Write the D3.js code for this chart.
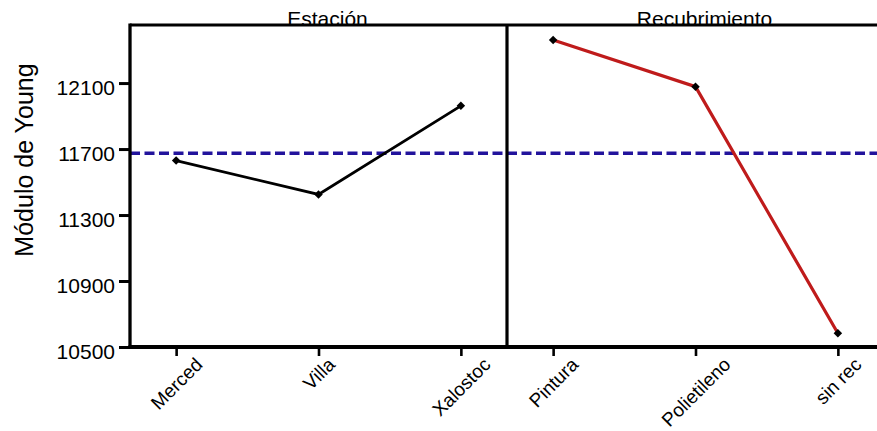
<!DOCTYPE html>
<html>
<head>
<meta charset="utf-8">
<script src="https://cdn.jsdelivr.net/npm/d3@7"></script>
<style>
  html, body { margin: 0; padding: 0; background: #fff; }
  svg { display: block; }
  text { font-family: "Liberation Sans", Arial, sans-serif; fill: #000; }
</style>
</head>
<body>
<svg id="chart" width="877" height="431"></svg>
<script>
// ---- data ----
const stations = ["Merced", "Villa", "Xalostoc"];
const stationValues = [11630, 11425, 11962];
const coatings = ["Pintura", "Polietileno", "sin rec"];
const coatingValues = [12361, 12078, 10583];
const grandMean = 11675;
const yTicks = [10500, 10900, 11300, 11700, 12100];
const panelTitles = ["Estación", "Recubrimiento"];
const yTitle = "Módulo de Young";

(function () {
// ---- layout ----
const W = 877, H = 431;
const mLeft = 130, mTop = 25, mBottom = 347;
const panelW = 377;
const svg = d3.select("#chart");

const y = d3.scaleLinear().domain([10500, 12452]).range([mBottom, mTop]);

const panels = [
  { cats: stations, vals: stationValues, x0: mLeft, color: "#000000", width: 2.8, title: panelTitles[0] },
  { cats: coatings, vals: coatingValues, x0: mLeft + panelW, color: "#bf1b1b", width: 3.2, title: panelTitles[1] }
];
panels.forEach(p => {
  p.x = d3.scalePoint().domain(p.cats).range([p.x0, p.x0 + panelW]).padding(0.324);
});

// panel titles (drawn under frame line)
panels.forEach(p => {
  svg.append("text")
    .attr("x", p.x0 + panelW / 2 + 9)
    .attr("y", 26)
    .attr("text-anchor", "middle")
    .style("font-size", "21px")
    .text(p.title);
});

// grand mean dashed line
svg.append("line")
  .attr("x1", mLeft).attr("x2", W + 10)
  .attr("y1", y(grandMean)).attr("y2", y(grandMean))
  .attr("stroke", "#22139c").attr("stroke-width", 3.5)
  .attr("stroke-dasharray", "10,4.5");

// series lines + markers
panels.forEach(p => {
  const pts = p.cats.map((c, i) => [p.x(c), y(p.vals[i])]);
  svg.append("path")
    .attr("d", d3.line()(pts))
    .attr("fill", "none")
    .attr("stroke", p.color)
    .attr("stroke-width", p.width);
  svg.selectAll(null).data(pts).enter().append("path")
    .attr("d", d3.symbol().type(d3.symbolSquare).size(36)())
    .attr("transform", d => `translate(${d[0]},${d[1]}) rotate(45)`)
    .attr("fill", "#000");
});

// frame: top border, divider
svg.append("line").attr("x1", mLeft).attr("x2", W + 10).attr("y1", mTop).attr("y2", mTop)
  .attr("stroke", "#000").attr("stroke-width", 3);
svg.append("line").attr("x1", mLeft + panelW).attr("x2", mLeft + panelW).attr("y1", mTop).attr("y2", mBottom)
  .attr("stroke", "#000").attr("stroke-width", 3.2);

// y axis
const yAxis = svg.append("g").attr("transform", `translate(${mLeft},0)`)
  .call(d3.axisLeft(y).tickValues(yTicks).tickSize(11).tickFormat(d3.format("d")));
yAxis.select(".domain").remove();
yAxis.selectAll(".tick line").attr("stroke", "#000").attr("stroke-width", 3);
yAxis.selectAll(".tick text")
  .attr("x", -15).attr("dy", "0.55em")
  .style("font-size", "21px").style("font-family", "'Liberation Sans', Arial, sans-serif");
svg.append("line").attr("x1", mLeft).attr("x2", mLeft).attr("y1", mTop - 1.5).attr("y2", mBottom + 2)
  .attr("stroke", "#000").attr("stroke-width", 3.3);

// x axes
panels.forEach(p => {
  const g = svg.append("g").attr("transform", `translate(0,${mBottom})`)
    .call(d3.axisBottom(p.x).tickSize(9).tickSizeOuter(0));
  g.select(".domain").remove();
  g.selectAll(".tick line").attr("stroke", "#000").attr("stroke-width", 2.6);
  g.selectAll(".tick text").each(function (d) {
    const t = d3.select(this)
      .style("font-size", "19px")
      .style("font-family", "'Liberation Sans', Arial, sans-serif")
      .attr("text-anchor", "middle")
      .attr("dominant-baseline", "central")
      .attr("y", 0).attr("dy", null);
    const L = this.getComputedTextLength();
    const h = 12;
    const half = (L + h) / (2 * Math.SQRT2);
    const cy = 357 - mBottom + half;
    t.attr("transform", `translate(0,${cy}) rotate(-45)`);
  });
});
svg.append("line").attr("x1", mLeft - 1.5).attr("x2", W + 10).attr("y1", mBottom).attr("y2", mBottom)
  .attr("stroke", "#000").attr("stroke-width", 4);

// y title
svg.append("text")
  .attr("transform", `translate(33,160) rotate(-90)`)
  .attr("text-anchor", "middle")
  .style("font-size", "25px")
  .text(yTitle);
})();
</script>
</body>
</html>
